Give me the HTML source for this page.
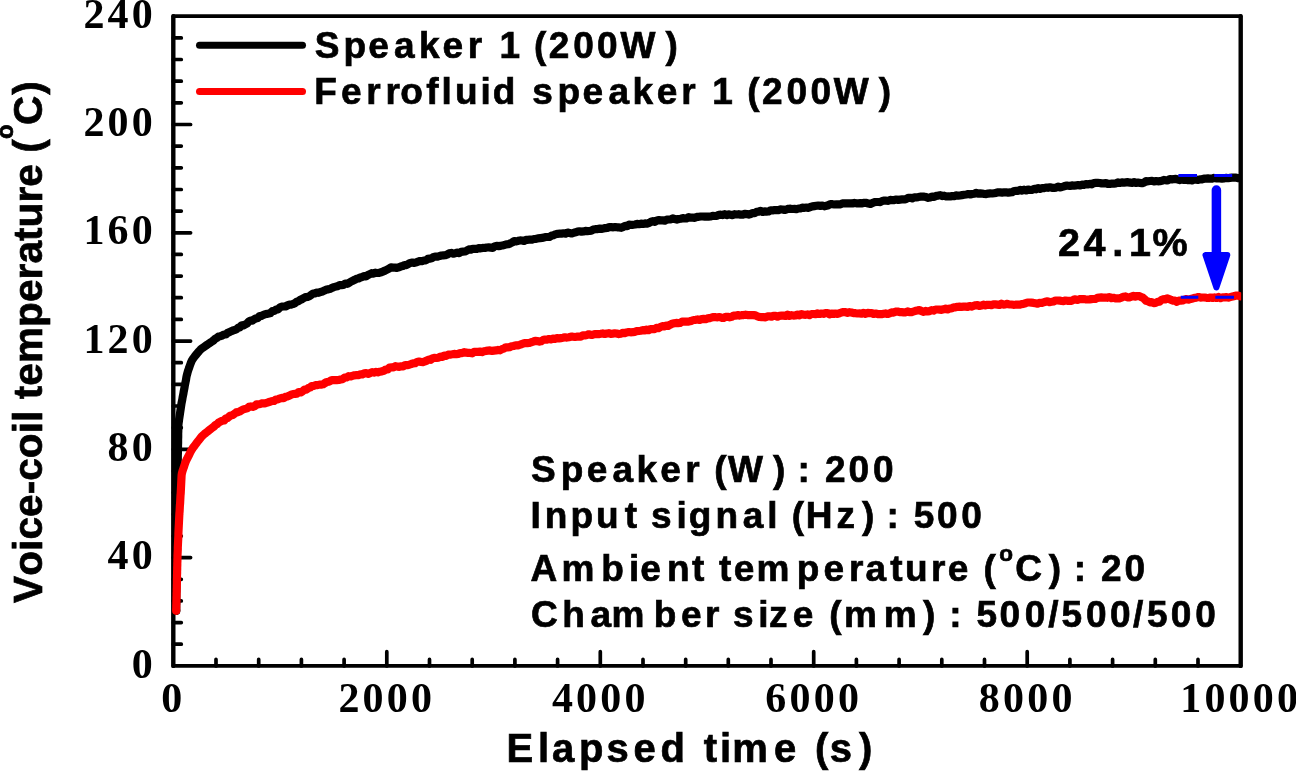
<!DOCTYPE html>
<html lang="en"><head><meta charset="utf-8"><title>Voice-coil temperature vs elapsed time</title>
<style>html,body{margin:0;padding:0;background:#fff;}body{width:1296px;height:771px;overflow:hidden;}svg{display:block;}.s{font-family:"Liberation Sans",Arial,Helvetica,sans-serif;font-weight:bold;fill:#000;stroke:#000;stroke-width:0.7px;font-kerning:none;}.t{font-family:"Liberation Serif","Times New Roman",Times,serif;font-weight:bold;fill:#000;font-kerning:none;}</style></head><body>
<svg width="1296" height="771" viewBox="0 0 1296 771">
<rect x="0" y="0" width="1296" height="771" fill="#fff"/>
<path d="M173.3,644.2H181.3 M173.3,622.6H181.3 M173.3,600.9H181.3 M173.3,579.3H181.3 M173.3,557.6H190.6 M173.3,536.0H181.3 M173.3,514.3H181.3 M173.3,492.6H181.3 M173.3,471.0H181.3 M173.3,449.3H190.6 M173.3,427.7H181.3 M173.3,406.0H181.3 M173.3,384.4H181.3 M173.3,362.7H181.3 M173.3,341.1H190.6 M173.3,319.4H181.3 M173.3,297.7H181.3 M173.3,276.1H181.3 M173.3,254.4H181.3 M173.3,232.8H190.6 M173.3,211.1H181.3 M173.3,189.5H181.3 M173.3,167.8H181.3 M173.3,146.1H181.3 M173.3,124.5H190.6 M173.3,102.8H181.3 M173.3,81.2H181.3 M173.3,59.5H181.3 M173.3,37.9H181.3 M216.0,665.9V659.4 M258.7,665.9V659.4 M301.4,665.9V659.4 M344.1,665.9V659.4 M386.8,665.9V651.7 M429.5,665.9V659.4 M472.2,665.9V659.4 M514.9,665.9V659.4 M557.6,665.9V659.4 M600.3,665.9V651.7 M643.0,665.9V659.4 M685.7,665.9V659.4 M728.3,665.9V659.4 M771.0,665.9V659.4 M813.7,665.9V651.7 M856.4,665.9V659.4 M899.1,665.9V659.4 M941.8,665.9V659.4 M984.5,665.9V659.4 M1027.2,665.9V651.7 M1069.9,665.9V659.4 M1112.6,665.9V659.4 M1155.3,665.9V659.4 M1198.0,665.9V659.4" stroke="#000" stroke-width="3.7" stroke-linecap="round" fill="none"/>
<path d="M173.3,16.2V665.9 M1240.7,16.2V665.9" stroke="#000" stroke-width="4.4" stroke-linecap="round" fill="none"/>
<path d="M173.3,16.2H1240.7 M173.3,665.9H1240.7" stroke="#000" stroke-width="3.7" stroke-linecap="round" fill="none"/>
<clipPath id="c"><rect x="170" y="10" width="1071.2" height="660"/></clipPath><g clip-path="url(#c)">
<path d="M176.2,610.8 L176.2,609.4 L176.2,607.5 L176.2,605.5 L176.3,603.5 L176.3,601.5 L176.3,599.5 L176.3,597.5 L176.3,595.5 L176.3,593.5 L176.4,591.5 L176.4,589.5 L176.4,587.5 L176.4,585.5 L176.4,583.5 L176.4,581.5 L176.5,579.4 L176.5,577.4 L176.5,575.4 L176.5,573.4 L176.5,571.4 L176.5,569.4 L176.5,567.4 L176.6,565.4 L176.6,563.4 L176.6,561.4 L176.6,559.4 L176.6,557.4 L176.7,555.4 L176.7,553.4 L176.7,551.4 L176.7,549.4 L176.7,547.4 L176.8,545.4 L176.8,543.4 L176.8,541.4 L176.8,539.4 L176.8,537.4 L176.9,535.4 L176.9,533.4 L176.9,531.4 L176.9,529.4 L176.9,527.4 L177.0,525.4 L177.0,523.4 L177.0,521.4 L177.0,519.4 L177.0,517.3 L177.1,515.3 L177.1,513.3 L177.1,511.3 L177.1,509.3 L177.1,507.3 L177.2,505.3 L177.2,503.3 L177.2,501.3 L177.2,499.3 L177.2,497.3 L177.3,495.3 L177.3,493.3 L177.3,491.3 L177.3,489.3 L177.3,487.3 L177.4,485.3 L177.4,483.3 L177.4,481.3 L177.4,479.3 L177.5,477.3 L177.5,475.3 L177.5,473.3 L177.6,471.3 L177.6,469.3 L177.6,467.3 L177.7,465.3 L177.7,463.3 L177.7,461.3 L177.8,459.3 L177.8,457.3 L177.8,455.3 L177.9,453.3 L177.9,451.2 L178.0,449.2 L178.0,447.2 L178.0,445.2 L178.1,443.2 L178.1,441.2 L178.1,439.2 L178.2,437.2 L178.2,435.2 L178.2,433.2 L178.3,431.2 L178.3,429.2 L178.4,427.2 L178.4,425.2 L178.6,423.2 L178.9,421.2 L179.1,419.3 L179.4,417.3 L179.7,415.3 L180.0,413.3 L180.3,411.3 L180.6,409.3 L180.9,407.4 L181.2,405.4 L181.5,403.4 L181.9,401.4 L182.3,399.5 L182.6,397.5 L183.0,395.5 L183.4,393.6 L183.7,391.6 L184.1,389.6 L184.5,387.7 L184.8,385.7 L185.2,383.7 L185.6,381.7 L186.0,379.8 L186.3,377.8 L186.7,375.8 L187.2,373.9 L187.7,372.0 L188.3,370.1 L189.0,368.2 L189.6,366.3 L190.3,364.4 L191.0,362.5 L191.8,360.7 L192.8,359.0 L194.0,357.4 L195.2,355.8 L196.5,354.3 L197.7,352.7 L199.0,351.2 L200.4,349.7 L201.9,348.4 L203.5,347.3 L205.2,346.1 L206.8,345.0 L208.5,343.9 L210.1,342.7 L211.8,341.6 L213.4,340.5 L215.1,338.8 L216.8,337.9 L218.6,336.5 L220.4,336.2 L222.2,335.6 L224.0,334.5 L225.9,334.5 L227.7,332.8 L229.5,332.1 L231.3,331.2 L233.2,330.4 L235.0,329.8 L236.7,329.2 L238.3,327.6 L239.8,327.4 L241.5,325.3 L243.2,325.5 L245.0,324.6 L246.8,323.7 L248.6,321.7 L250.5,320.7 L252.3,320.6 L254.1,319.3 L255.9,318.3 L257.7,318.2 L259.5,316.0 L261.3,315.9 L263.1,315.1 L265.0,314.2 L266.8,313.9 L268.7,313.5 L270.5,313.0 L272.4,311.1 L274.2,311.0 L276.1,309.6 L278.0,309.4 L279.8,307.5 L281.7,306.6 L283.6,306.5 L285.4,306.5 L287.3,305.5 L289.1,304.6 L291.0,304.7 L292.9,304.0 L294.7,303.4 L296.5,301.9 L298.4,301.2 L300.2,299.9 L302.1,299.1 L303.9,297.9 L305.7,297.1 L307.6,296.9 L309.4,296.2 L311.2,294.9 L313.1,293.5 L314.9,293.4 L316.8,292.6 L318.6,292.8 L320.5,292.0 L322.4,291.5 L324.4,290.6 L326.3,289.6 L328.2,289.4 L330.1,288.8 L332.0,287.8 L333.9,287.1 L335.8,286.6 L337.7,286.2 L339.6,285.2 L341.5,285.1 L343.4,284.9 L345.3,283.5 L347.2,283.8 L349.1,282.8 L350.9,281.6 L352.8,280.7 L354.7,279.8 L356.5,278.8 L358.4,278.5 L360.3,277.5 L362.2,277.0 L364.0,276.0 L365.9,276.5 L367.8,275.1 L369.7,274.3 L371.6,273.2 L373.5,273.7 L375.4,272.7 L377.4,273.0 L379.3,272.8 L381.2,272.3 L383.2,271.4 L385.1,270.6 L387.1,269.6 L389.0,268.6 L390.9,267.3 L392.9,267.6 L394.8,267.6 L396.7,268.0 L398.7,267.3 L400.6,266.6 L402.6,266.1 L404.5,265.0 L406.4,265.1 L408.4,263.9 L410.3,262.9 L412.3,262.5 L414.2,263.0 L416.2,262.3 L418.1,261.6 L420.0,261.0 L422.0,261.2 L423.9,260.5 L425.9,260.4 L427.8,258.9 L429.8,258.6 L431.8,258.3 L433.7,256.9 L435.7,256.5 L437.6,256.7 L439.6,256.0 L441.5,255.5 L443.5,255.3 L445.4,255.2 L447.4,254.4 L449.3,253.3 L451.3,252.9 L453.3,253.7 L455.2,253.3 L457.2,252.5 L459.1,253.2 L461.1,251.8 L463.0,251.6 L465.0,251.5 L466.9,250.6 L468.9,249.4 L470.9,249.6 L472.8,248.8 L474.8,248.9 L476.8,248.8 L478.8,248.1 L480.8,248.3 L482.7,247.9 L484.7,248.0 L486.7,247.5 L488.7,247.4 L490.7,247.6 L492.7,247.8 L494.7,246.4 L496.6,245.8 L498.6,246.1 L500.6,245.9 L502.5,245.4 L504.5,245.0 L506.4,244.3 L508.4,244.2 L510.3,243.4 L512.3,242.4 L514.2,241.0 L516.2,241.5 L518.2,240.8 L520.1,240.4 L522.1,240.5 L524.1,241.0 L526.1,239.9 L528.0,239.8 L530.0,239.5 L532.0,239.7 L534.0,239.0 L536.0,238.9 L537.9,238.3 L539.9,238.2 L541.9,237.9 L543.9,237.4 L545.8,237.0 L547.8,237.0 L549.8,236.8 L551.8,235.6 L553.7,235.2 L555.7,234.2 L557.7,233.8 L559.7,233.7 L561.6,233.6 L563.6,233.3 L565.6,233.6 L567.6,232.5 L569.6,233.1 L571.5,233.5 L573.5,232.9 L575.5,232.3 L577.5,231.6 L579.5,231.3 L581.4,231.7 L583.4,231.4 L585.4,230.9 L587.4,231.1 L589.4,231.0 L591.3,230.7 L593.3,229.6 L595.3,229.2 L597.3,229.2 L599.3,228.5 L601.3,229.0 L603.3,228.6 L605.3,228.1 L607.3,227.9 L609.3,227.1 L611.3,227.2 L613.3,227.3 L615.2,227.0 L617.2,227.3 L619.2,227.4 L621.2,227.8 L623.2,226.9 L625.2,225.8 L627.2,226.1 L629.1,224.7 L631.1,224.8 L633.1,224.8 L635.1,224.5 L637.1,223.9 L639.0,224.2 L641.0,223.7 L643.0,223.9 L645.0,223.4 L647.0,223.7 L649.0,222.9 L651.0,221.7 L652.9,221.2 L654.9,221.8 L656.9,220.5 L658.9,220.1 L660.9,220.3 L662.9,220.4 L664.9,220.7 L666.9,219.6 L668.9,219.5 L670.8,219.4 L672.8,218.4 L674.8,219.1 L676.8,219.6 L678.8,219.0 L680.8,218.7 L682.8,218.1 L684.8,218.5 L686.8,218.3 L688.8,217.1 L690.8,217.7 L692.8,217.6 L694.8,217.8 L696.8,216.9 L698.8,216.8 L700.7,216.5 L702.7,216.5 L704.7,216.6 L706.7,216.6 L708.7,216.6 L710.7,216.5 L712.7,215.8 L714.7,216.0 L716.7,215.9 L718.7,214.8 L720.7,214.7 L722.7,215.1 L724.7,214.2 L726.7,215.2 L728.7,214.4 L730.7,214.7 L732.7,215.2 L734.7,214.2 L736.7,214.5 L738.7,214.2 L740.7,214.7 L742.7,214.7 L744.7,213.8 L746.7,214.1 L748.7,214.6 L750.7,214.0 L752.7,213.1 L754.7,213.1 L756.6,211.8 L758.6,211.6 L760.6,210.8 L762.6,211.9 L764.6,211.4 L766.6,211.6 L768.6,211.5 L770.6,210.3 L772.6,210.4 L774.6,210.0 L776.5,210.1 L778.5,210.1 L780.5,209.4 L782.5,209.5 L784.5,209.9 L786.5,209.4 L788.5,208.8 L790.5,208.7 L792.5,209.0 L794.5,208.9 L796.5,209.2 L798.5,208.5 L800.5,208.4 L802.5,207.7 L804.5,207.8 L806.5,207.5 L808.5,207.9 L810.4,207.0 L812.4,206.4 L814.4,206.1 L816.4,205.8 L818.4,205.5 L820.4,205.9 L822.4,205.5 L824.4,206.3 L826.4,205.8 L828.4,205.2 L830.4,204.1 L832.4,204.2 L834.4,204.5 L836.4,204.3 L838.4,204.4 L840.4,204.3 L842.4,203.3 L844.4,203.4 L846.4,203.3 L848.4,203.3 L850.4,203.4 L852.4,203.4 L854.4,202.9 L856.4,203.3 L858.4,203.3 L860.4,203.1 L862.4,203.3 L864.4,202.8 L866.4,202.9 L868.4,203.6 L870.4,204.0 L872.4,203.1 L874.4,202.2 L876.4,202.0 L878.4,202.0 L880.3,202.1 L882.3,200.9 L884.3,200.5 L886.3,200.7 L888.3,200.8 L890.3,199.9 L892.3,200.2 L894.3,200.1 L896.3,199.6 L898.3,200.0 L900.3,199.6 L902.3,199.3 L904.3,199.5 L906.2,199.0 L908.2,197.9 L910.2,197.8 L912.2,198.4 L914.2,197.3 L916.2,197.4 L918.2,197.1 L920.2,196.7 L922.2,196.6 L924.2,196.7 L926.2,197.1 L928.2,197.8 L930.2,197.4 L932.2,196.6 L934.2,196.8 L936.2,195.8 L938.2,195.6 L940.2,195.2 L942.2,196.1 L944.2,195.7 L946.2,196.5 L948.2,196.4 L950.2,196.5 L952.2,196.0 L954.2,196.2 L956.2,195.4 L958.2,195.7 L960.2,195.5 L962.2,195.1 L964.2,194.8 L966.2,194.5 L968.2,194.1 L970.2,194.5 L972.2,194.0 L974.2,193.7 L976.2,192.9 L978.2,193.6 L980.2,193.4 L982.2,193.6 L984.2,194.0 L986.2,194.1 L988.2,193.6 L990.2,193.4 L992.2,193.5 L994.2,193.2 L996.2,192.9 L998.2,192.3 L1000.2,192.4 L1002.2,192.6 L1004.2,192.3 L1006.1,192.3 L1008.1,192.7 L1010.1,192.4 L1012.1,192.2 L1014.1,191.0 L1016.1,190.9 L1018.1,190.9 L1020.1,189.9 L1022.1,190.7 L1024.1,189.7 L1026.1,190.5 L1028.1,189.5 L1030.1,190.0 L1032.1,189.8 L1034.1,188.8 L1036.1,189.3 L1038.1,188.1 L1040.1,188.9 L1042.1,188.2 L1044.0,188.2 L1046.0,187.5 L1048.0,187.8 L1050.0,187.3 L1052.0,187.8 L1054.0,187.9 L1056.0,187.6 L1058.0,186.6 L1060.0,187.4 L1062.0,187.0 L1064.0,186.3 L1066.0,185.7 L1068.0,185.7 L1070.0,186.0 L1072.0,185.4 L1074.0,185.7 L1076.0,185.4 L1078.0,185.0 L1080.0,185.5 L1081.9,184.6 L1083.9,184.8 L1085.9,184.1 L1087.9,184.5 L1089.9,183.8 L1091.9,184.3 L1093.9,183.1 L1095.9,182.9 L1097.9,182.9 L1099.9,183.0 L1101.9,183.5 L1103.9,183.3 L1105.9,183.1 L1107.9,184.0 L1109.9,183.9 L1111.9,183.5 L1113.9,183.6 L1115.9,183.4 L1117.9,182.4 L1119.9,183.0 L1121.9,182.3 L1123.9,182.7 L1125.9,182.4 L1127.9,182.1 L1130.0,182.7 L1132.0,182.8 L1134.0,182.1 L1136.0,183.0 L1138.0,182.5 L1140.0,182.9 L1142.0,183.2 L1144.0,182.6 L1146.0,181.2 L1148.0,181.3 L1150.0,181.0 L1152.0,180.8 L1154.0,181.5 L1156.0,181.0 L1158.0,181.3 L1160.0,181.2 L1161.9,180.8 L1163.9,179.9 L1165.9,180.3 L1167.9,180.3 L1169.9,179.1 L1171.9,179.5 L1173.9,179.1 L1175.9,178.9 L1177.9,179.5 L1179.9,180.1 L1181.9,178.9 L1184.0,180.0 L1186.0,179.4 L1188.0,180.2 L1190.0,179.6 L1192.0,180.4 L1194.0,179.5 L1196.0,179.5 L1198.0,180.0 L1200.0,179.3 L1202.0,179.3 L1204.0,178.7 L1206.0,178.6 L1208.0,178.4 L1210.0,178.7 L1212.0,178.6 L1214.0,177.9 L1216.0,178.3 L1218.0,178.4 L1220.0,178.4 L1222.0,178.7 L1224.0,178.5 L1226.0,177.8 L1228.0,178.2 L1230.0,177.9 L1232.0,177.7 L1234.0,177.7 L1236.0,177.6 L1237.9,178.2 L1239.3,178.0" fill="none" stroke="#000" stroke-width="8.2" stroke-linecap="round" stroke-linejoin="round"/>
<path d="M1178.4,175.4H1197 M1214.2,175.4H1232.2" stroke="#00f" stroke-width="3" fill="none"/>
<path d="M176.2,610.8 L176.2,609.4 L176.2,607.5 L176.2,605.5 L176.3,603.5 L176.3,601.5 L176.3,599.5 L176.3,597.5 L176.3,595.5 L176.3,593.5 L176.4,591.5 L176.4,589.5 L176.4,587.5 L176.4,585.5 L176.4,583.5 L176.4,581.5 L176.5,579.4 L176.5,577.4 L176.5,575.4 L176.5,573.4 L176.5,571.4 L176.5,569.4 L176.5,567.4 L176.6,565.4 L176.6,563.4 L176.6,561.4 L176.6,559.4 L176.6,557.4 L176.7,555.4 L176.7,553.4 L176.7,551.4 L176.7,549.4 L176.7,547.4 L176.8,545.4 L176.8,543.4 L176.8,541.4 L176.8,539.4 L176.8,537.4 L176.9,535.4 L176.9,533.4 L176.9,531.4 L176.9,529.4 L176.9,527.4 L177.0,525.4 L177.0,523.4 L177.0,521.4 L177.0,519.4 L177.0,517.3 L177.1,515.3 L177.1,513.3 L177.1,511.3 L177.1,509.3 L177.1,507.3 L177.2,505.3 L177.2,503.3 L177.2,501.3 L177.2,499.3 L177.2,497.3 L177.3,495.3 L177.3,493.3 L177.3,491.3 L177.3,489.3 L177.3,487.3 L177.4,485.3 L177.4,483.3 L177.4,481.3 L177.4,479.3 L177.5,477.3 L177.5,475.3 L177.5,473.3 L177.6,471.3 L177.6,469.3 L177.6,467.3 L177.7,465.3 L177.7,463.3 L177.7,461.3 L177.8,459.3 L177.8,457.3 L177.8,455.3 L177.9,453.3 L177.9,451.2 L178.0,449.2 L178.0,447.2 L178.0,445.2 L178.1,443.2 L178.1,441.2 L178.1,439.2 L178.2,437.2 L178.2,435.2 L178.2,433.2 L178.3,431.2 L178.3,429.2 L178.4,427.2 L178.4,425.2 L178.6,423.2 L178.9,421.2 L179.1,419.3 L179.4,417.3 L179.7,415.3 L180.0,413.3 L180.3,411.3 L180.6,409.3 L180.9,407.4 L181.2,405.4 L181.5,403.4 L181.9,401.4 L182.3,399.5 L182.6,397.5 L183.0,395.5 L183.4,393.6 L183.7,391.6 L184.1,389.6 L184.5,387.7 L184.8,385.7 L185.2,383.7 L185.6,381.7 L186.0,379.8 L186.3,377.8 L186.7,375.8 L187.2,373.9 L187.7,372.0 L188.3,370.1 L189.0,368.2 L189.6,366.3 L190.3,364.4 L191.0,362.5 L191.8,360.7 L192.8,359.0 L194.0,357.4 L195.2,355.8 L196.5,354.3 L197.7,352.7 L199.0,351.2 L200.4,349.7 L201.9,348.4 L203.5,347.3 L205.2,346.1 L206.8,345.0 L208.5,343.9 L210.1,342.7 L211.8,341.6 L213.4,340.5 L215.1,338.8 L216.8,337.9 L218.6,336.5 L220.4,336.2 L222.2,335.6 L224.0,334.5 L225.9,334.5 L227.7,332.8 L229.5,332.1 L231.3,331.2 L233.2,330.4 L235.0,329.8 L236.7,329.2 L238.3,327.6 L239.8,327.4 L241.5,325.3 L243.2,325.5 L245.0,324.6 L246.8,323.7 L248.6,321.7 L250.5,320.7 L252.3,320.6 L254.1,319.3 L255.9,318.3 L257.7,318.2 L259.5,316.0 L261.3,315.9 L263.1,315.1 L265.0,314.2 L266.8,313.9 L268.7,313.5 L270.5,313.0 L272.4,311.1 L274.2,311.0 L276.1,309.6 L278.0,309.4 L279.8,307.5 L281.7,306.6 L283.6,306.5 L285.4,306.5 L287.3,305.5 L289.1,304.6 L291.0,304.7 L292.9,304.0 L294.7,303.4 L296.5,301.9 L298.4,301.2 L300.2,299.9 L302.1,299.1 L303.9,297.9 L305.7,297.1 L307.6,296.9 L309.4,296.2 L311.2,294.9 L313.1,293.5 L314.9,293.4 L316.8,292.6 L318.6,292.8 L320.5,292.0 L322.4,291.5 L324.4,290.6 L326.3,289.6 L328.2,289.4 L330.1,288.8 L332.0,287.8 L333.9,287.1 L335.8,286.6 L337.7,286.2 L339.6,285.2 L341.5,285.1 L343.4,284.9 L345.3,283.5 L347.2,283.8 L349.1,282.8 L350.9,281.6 L352.8,280.7 L354.7,279.8 L356.5,278.8 L358.4,278.5 L360.3,277.5 L362.2,277.0 L364.0,276.0 L365.9,276.5 L367.8,275.1 L369.7,274.3 L371.6,273.2 L373.5,273.7 L375.4,272.7 L377.4,273.0 L379.3,272.8 L381.2,272.3 L383.2,271.4 L385.1,270.6 L387.1,269.6 L389.0,268.6 L390.9,267.3 L392.9,267.6 L394.8,267.6 L396.7,268.0 L398.7,267.3 L400.6,266.6 L402.6,266.1 L404.5,265.0 L406.4,265.1 L408.4,263.9 L410.3,262.9 L412.3,262.5 L414.2,263.0 L416.2,262.3 L418.1,261.6 L420.0,261.0 L422.0,261.2 L423.9,260.5 L425.9,260.4 L427.8,258.9 L429.8,258.6 L431.8,258.3 L433.7,256.9 L435.7,256.5 L437.6,256.7 L439.6,256.0 L441.5,255.5 L443.5,255.3 L445.4,255.2 L447.4,254.4 L449.3,253.3 L451.3,252.9 L453.3,253.7 L455.2,253.3 L457.2,252.5 L459.1,253.2 L461.1,251.8 L463.0,251.6 L465.0,251.5 L466.9,250.6 L468.9,249.4 L470.9,249.6 L472.8,248.8 L474.8,248.9 L476.8,248.8 L478.8,248.1 L480.8,248.3 L482.7,247.9 L484.7,248.0 L486.7,247.5 L488.7,247.4 L490.7,247.6 L492.7,247.8 L494.7,246.4 L496.6,245.8 L498.6,246.1 L500.6,245.9 L502.5,245.4 L504.5,245.0 L506.4,244.3 L508.4,244.2 L510.3,243.4 L512.3,242.4 L514.2,241.0 L516.2,241.5 L518.2,240.8 L520.1,240.4 L522.1,240.5 L524.1,241.0 L526.1,239.9 L528.0,239.8 L530.0,239.5 L532.0,239.7 L534.0,239.0 L536.0,238.9 L537.9,238.3 L539.9,238.2 L541.9,237.9 L543.9,237.4 L545.8,237.0 L547.8,237.0 L549.8,236.8 L551.8,235.6 L553.7,235.2 L555.7,234.2 L557.7,233.8 L559.7,233.7 L561.6,233.6 L563.6,233.3 L565.6,233.6 L567.6,232.5 L569.6,233.1 L571.5,233.5 L573.5,232.9 L575.5,232.3 L577.5,231.6 L579.5,231.3 L581.4,231.7 L583.4,231.4 L585.4,230.9 L587.4,231.1 L589.4,231.0 L591.3,230.7 L593.3,229.6 L595.3,229.2 L597.3,229.2 L599.3,228.5 L601.3,229.0 L603.3,228.6 L605.3,228.1 L607.3,227.9 L609.3,227.1 L611.3,227.2 L613.3,227.3 L615.2,227.0 L617.2,227.3 L619.2,227.4 L621.2,227.8 L623.2,226.9 L625.2,225.8 L627.2,226.1 L629.1,224.7 L631.1,224.8 L633.1,224.8 L635.1,224.5 L637.1,223.9 L639.0,224.2 L641.0,223.7 L643.0,223.9 L645.0,223.4 L647.0,223.7 L649.0,222.9 L651.0,221.7 L652.9,221.2 L654.9,221.8 L656.9,220.5 L658.9,220.1 L660.9,220.3 L662.9,220.4 L664.9,220.7 L666.9,219.6 L668.9,219.5 L670.8,219.4 L672.8,218.4 L674.8,219.1 L676.8,219.6 L678.8,219.0 L680.8,218.7 L682.8,218.1 L684.8,218.5 L686.8,218.3 L688.8,217.1 L690.8,217.7 L692.8,217.6 L694.8,217.8 L696.8,216.9 L698.8,216.8 L700.7,216.5 L702.7,216.5 L704.7,216.6 L706.7,216.6 L708.7,216.6 L710.7,216.5 L712.7,215.8 L714.7,216.0 L716.7,215.9 L718.7,214.8 L720.7,214.7 L722.7,215.1 L724.7,214.2 L726.7,215.2 L728.7,214.4 L730.7,214.7 L732.7,215.2 L734.7,214.2 L736.7,214.5 L738.7,214.2 L740.7,214.7 L742.7,214.7 L744.7,213.8 L746.7,214.1 L748.7,214.6 L750.7,214.0 L752.7,213.1 L754.7,213.1 L756.6,211.8 L758.6,211.6 L760.6,210.8 L762.6,211.9 L764.6,211.4 L766.6,211.6 L768.6,211.5 L770.6,210.3 L772.6,210.4 L774.6,210.0 L776.5,210.1 L778.5,210.1 L780.5,209.4 L782.5,209.5 L784.5,209.9 L786.5,209.4 L788.5,208.8 L790.5,208.7 L792.5,209.0 L794.5,208.9 L796.5,209.2 L798.5,208.5 L800.5,208.4 L802.5,207.7 L804.5,207.8 L806.5,207.5 L808.5,207.9 L810.4,207.0 L812.4,206.4 L814.4,206.1 L816.4,205.8 L818.4,205.5 L820.4,205.9 L822.4,205.5 L824.4,206.3 L826.4,205.8 L828.4,205.2 L830.4,204.1 L832.4,204.2 L834.4,204.5 L836.4,204.3 L838.4,204.4 L840.4,204.3 L842.4,203.3 L844.4,203.4 L846.4,203.3 L848.4,203.3 L850.4,203.4 L852.4,203.4 L854.4,202.9 L856.4,203.3 L858.4,203.3 L860.4,203.1 L862.4,203.3 L864.4,202.8 L866.4,202.9 L868.4,203.6 L870.4,204.0 L872.4,203.1 L874.4,202.2 L876.4,202.0 L878.4,202.0 L880.3,202.1 L882.3,200.9 L884.3,200.5 L886.3,200.7 L888.3,200.8 L890.3,199.9 L892.3,200.2 L894.3,200.1 L896.3,199.6 L898.3,200.0 L900.3,199.6 L902.3,199.3 L904.3,199.5 L906.2,199.0 L908.2,197.9 L910.2,197.8 L912.2,198.4 L914.2,197.3 L916.2,197.4 L918.2,197.1 L920.2,196.7 L922.2,196.6 L924.2,196.7 L926.2,197.1 L928.2,197.8 L930.2,197.4 L932.2,196.6 L934.2,196.8 L936.2,195.8 L938.2,195.6 L940.2,195.2 L942.2,196.1 L944.2,195.7 L946.2,196.5 L948.2,196.4 L950.2,196.5 L952.2,196.0 L954.2,196.2 L956.2,195.4 L958.2,195.7 L960.2,195.5 L962.2,195.1 L964.2,194.8 L966.2,194.5 L968.2,194.1 L970.2,194.5 L972.2,194.0 L974.2,193.7 L976.2,192.9 L978.2,193.6 L980.2,193.4 L982.2,193.6 L984.2,194.0 L986.2,194.1 L988.2,193.6 L990.2,193.4 L992.2,193.5 L994.2,193.2 L996.2,192.9 L998.2,192.3 L1000.2,192.4 L1002.2,192.6 L1004.2,192.3 L1006.1,192.3 L1008.1,192.7 L1010.1,192.4 L1012.1,192.2 L1014.1,191.0 L1016.1,190.9 L1018.1,190.9 L1020.1,189.9 L1022.1,190.7 L1024.1,189.7 L1026.1,190.5 L1028.1,189.5 L1030.1,190.0 L1032.1,189.8 L1034.1,188.8 L1036.1,189.3 L1038.1,188.1 L1040.1,188.9 L1042.1,188.2 L1044.0,188.2 L1046.0,187.5 L1048.0,187.8 L1050.0,187.3 L1052.0,187.8 L1054.0,187.9 L1056.0,187.6 L1058.0,186.6 L1060.0,187.4 L1062.0,187.0 L1064.0,186.3 L1066.0,185.7 L1068.0,185.7 L1070.0,186.0 L1072.0,185.4 L1074.0,185.7 L1076.0,185.4 L1078.0,185.0 L1080.0,185.5 L1081.9,184.6 L1083.9,184.8 L1085.9,184.1 L1087.9,184.5 L1089.9,183.8 L1091.9,184.3 L1093.9,183.1 L1095.9,182.9 L1097.9,182.9 L1099.9,183.0 L1101.9,183.5 L1103.9,183.3 L1105.9,183.1 L1107.9,184.0 L1109.9,183.9 L1111.9,183.5 L1113.9,183.6 L1115.9,183.4 L1117.9,182.4 L1119.9,183.0 L1121.9,182.3 L1123.9,182.7 L1125.9,182.4 L1127.9,182.1 L1130.0,182.7 L1132.0,182.8 L1134.0,182.1 L1136.0,183.0 L1138.0,182.5 L1140.0,182.9 L1142.0,183.2 L1144.0,182.6 L1146.0,181.2 L1148.0,181.3 L1150.0,181.0 L1152.0,180.8 L1154.0,181.5 L1156.0,181.0 L1158.0,181.3 L1160.0,181.2 L1161.9,180.8 L1163.9,179.9 L1165.9,180.3 L1167.9,180.3 L1169.9,179.1 L1171.9,179.5 L1173.9,179.1 L1175.9,178.9 L1177.9,179.5 L1179.9,180.1 L1181.9,178.9 L1184.0,180.0 L1186.0,179.4 L1188.0,180.2 L1190.0,179.6 L1192.0,180.4 L1194.0,179.5 L1196.0,179.5 L1198.0,180.0 L1200.0,179.3 L1202.0,179.3 L1204.0,178.7 L1206.0,178.6 L1208.0,178.4 L1210.0,178.7 L1212.0,178.6 L1214.0,177.9 L1216.0,178.3 L1218.0,178.4 L1220.0,178.4 L1222.0,178.7 L1224.0,178.5 L1226.0,177.8 L1228.0,178.2 L1230.0,177.9 L1232.0,177.7 L1234.0,177.7 L1236.0,177.6 L1237.9,178.2 L1239.3,178.0" fill="none" stroke="#000" stroke-width="8.2" stroke-linecap="round" stroke-linejoin="round" stroke-dasharray="0 2600"/>
<path d="M176.2,610.8 L176.2,609.4 L176.3,607.5 L176.3,605.5 L176.4,603.5 L176.4,601.5 L176.5,599.5 L176.5,597.5 L176.6,595.5 L176.6,593.5 L176.7,591.5 L176.7,589.5 L176.8,587.5 L176.8,585.5 L176.9,583.5 L176.9,581.5 L176.9,579.5 L177.0,577.4 L177.0,575.4 L177.1,573.4 L177.1,571.4 L177.2,569.4 L177.2,567.4 L177.3,565.4 L177.3,563.4 L177.4,561.4 L177.4,559.4 L177.5,557.4 L177.5,555.4 L177.6,553.4 L177.7,551.4 L177.8,549.4 L177.8,547.4 L177.9,545.4 L178.0,543.4 L178.1,541.4 L178.2,539.4 L178.3,537.4 L178.4,535.4 L178.4,533.4 L178.5,531.4 L178.6,529.4 L178.7,527.4 L178.8,525.4 L178.9,523.4 L179.0,521.4 L179.1,519.4 L179.2,517.4 L179.3,515.4 L179.4,513.4 L179.6,511.4 L179.7,509.4 L179.8,507.4 L179.9,505.4 L180.1,503.4 L180.2,501.4 L180.3,499.4 L180.4,497.4 L180.5,495.4 L180.7,493.4 L180.8,491.4 L180.9,489.4 L181.0,487.4 L181.1,485.4 L181.2,483.4 L181.3,481.4 L181.4,479.4 L181.5,477.4 L181.6,475.4 L181.9,473.4 L182.4,471.5 L183.0,469.6 L183.7,467.7 L184.3,465.8 L184.9,463.9 L185.6,462.0 L186.4,460.2 L187.3,458.4 L188.2,456.6 L189.1,454.8 L190.0,453.0 L190.9,451.2 L191.9,449.5 L193.0,447.8 L194.2,446.2 L195.4,444.6 L196.6,443.0 L197.8,441.4 L199.1,439.9 L200.3,438.3 L201.5,436.7 L202.9,435.3 L204.4,434.0 L206.0,432.7 L207.6,431.5 L209.1,430.3 L210.7,429.0 L212.3,427.8 L213.9,426.6 L215.5,424.9 L217.1,424.1 L218.8,422.4 L220.6,421.6 L222.3,420.8 L224.1,420.5 L225.8,418.5 L227.5,418.1 L229.3,416.4 L231.0,415.4 L232.8,415.0 L234.5,413.7 L236.2,412.4 L238.0,412.1 L239.7,411.5 L241.5,410.3 L243.3,409.4 L245.2,408.9 L247.1,408.4 L249.0,406.8 L250.9,406.4 L252.8,406.8 L254.7,406.1 L256.6,404.4 L258.5,404.3 L260.4,403.9 L262.4,403.3 L264.3,403.4 L266.2,403.0 L268.2,402.3 L270.1,401.8 L272.1,401.0 L274.0,401.0 L275.9,399.5 L277.9,399.4 L279.8,398.4 L281.8,397.9 L283.7,398.1 L285.6,396.8 L287.5,396.4 L289.4,395.7 L291.3,394.7 L293.2,394.0 L295.1,393.8 L296.9,393.6 L298.8,392.0 L300.7,392.5 L302.6,391.3 L304.5,389.6 L306.4,389.6 L308.2,388.2 L310.1,387.5 L311.9,386.0 L313.8,385.8 L315.7,385.2 L317.5,385.1 L319.4,384.6 L321.2,384.6 L323.1,384.3 L325.0,383.0 L326.9,382.0 L328.9,381.7 L330.8,380.6 L332.8,380.1 L334.8,380.1 L336.7,380.2 L338.7,380.0 L340.6,379.5 L342.6,379.2 L344.6,377.5 L346.5,377.4 L348.5,376.2 L350.5,376.5 L352.4,375.9 L354.4,375.3 L356.4,375.2 L358.3,375.2 L360.3,374.4 L362.3,374.5 L364.2,373.4 L366.2,373.2 L368.2,373.8 L370.1,373.1 L372.1,372.1 L374.0,372.6 L376.0,371.9 L377.9,372.4 L379.9,371.7 L381.8,371.4 L383.8,370.8 L385.7,369.5 L387.7,369.4 L389.6,367.6 L391.6,367.4 L393.5,367.5 L395.5,366.1 L397.4,366.6 L399.4,366.8 L401.3,366.3 L403.3,366.3 L405.3,365.0 L407.2,365.2 L409.2,364.8 L411.2,364.0 L413.1,363.4 L415.1,363.2 L417.1,361.9 L419.0,361.5 L421.0,362.0 L422.9,362.1 L424.9,361.4 L426.8,360.6 L428.8,359.5 L430.7,359.8 L432.7,358.2 L434.6,357.9 L436.5,358.0 L438.5,357.7 L440.4,356.7 L442.4,357.0 L444.3,355.6 L446.3,355.8 L448.2,354.7 L450.2,354.6 L452.2,354.3 L454.2,353.9 L456.2,354.2 L458.2,353.9 L460.2,353.1 L462.1,353.1 L464.1,352.1 L466.1,352.7 L468.1,352.9 L470.1,352.9 L472.1,353.3 L474.1,351.9 L476.1,351.9 L478.1,351.8 L480.0,351.6 L482.0,352.1 L484.0,351.3 L486.0,350.9 L488.0,350.6 L490.0,350.4 L492.0,350.9 L494.0,350.6 L496.0,350.4 L498.0,349.9 L500.0,350.3 L501.9,349.2 L503.8,348.6 L505.8,347.3 L507.7,347.3 L509.7,347.1 L511.6,346.3 L513.5,346.0 L515.5,345.4 L517.4,345.4 L519.4,344.9 L521.4,344.3 L523.3,343.5 L525.3,343.0 L527.3,343.2 L529.3,343.0 L531.2,342.2 L533.2,341.6 L535.2,340.8 L537.1,341.1 L539.1,341.6 L541.1,341.3 L543.0,340.1 L545.0,339.6 L547.0,339.6 L549.0,339.0 L551.0,339.4 L553.0,338.7 L555.0,338.9 L557.0,338.2 L558.9,338.4 L560.9,338.1 L562.9,337.8 L564.9,337.3 L566.9,337.6 L568.9,337.2 L570.9,336.7 L572.9,336.7 L574.9,337.0 L576.8,336.7 L578.8,336.5 L580.8,336.7 L582.8,335.3 L584.8,335.4 L586.8,334.9 L588.8,334.3 L590.8,334.8 L592.8,334.8 L594.8,334.0 L596.8,334.1 L598.8,334.1 L600.8,333.8 L602.8,333.4 L604.8,334.0 L606.8,333.5 L608.8,333.2 L610.8,333.8 L612.8,333.6 L614.8,333.3 L616.8,333.5 L618.8,334.1 L620.8,333.7 L622.8,332.9 L624.8,333.1 L626.7,332.4 L628.7,332.0 L630.7,332.3 L632.7,332.2 L634.7,331.9 L636.7,331.2 L638.7,331.0 L640.7,330.7 L642.7,330.2 L644.6,330.4 L646.6,329.6 L648.6,330.2 L650.5,329.1 L652.5,329.2 L654.5,329.1 L656.4,327.9 L658.4,328.2 L660.4,327.0 L662.3,326.2 L664.3,326.4 L666.2,325.7 L668.2,325.8 L670.2,324.7 L672.1,323.8 L674.1,323.3 L676.1,322.9 L678.0,323.1 L680.0,322.9 L682.0,321.7 L683.9,321.7 L685.9,321.6 L687.9,321.7 L689.8,321.3 L691.8,320.7 L693.8,320.0 L695.7,319.8 L697.7,319.4 L699.7,319.9 L701.7,319.1 L703.7,318.9 L705.7,319.2 L707.7,318.4 L709.7,318.2 L711.7,317.5 L713.7,317.0 L715.7,317.2 L717.6,317.3 L719.6,317.0 L721.6,317.8 L723.6,317.9 L725.6,316.8 L727.6,316.8 L729.6,317.3 L731.6,316.8 L733.6,315.7 L735.6,315.7 L737.6,315.0 L739.6,315.6 L741.6,315.2 L743.6,315.1 L745.6,314.7 L747.6,315.1 L749.6,315.2 L751.6,315.1 L753.6,315.1 L755.5,315.4 L757.5,316.4 L759.5,317.0 L761.5,317.2 L763.5,317.1 L765.5,317.3 L767.5,316.3 L769.5,316.3 L771.5,316.7 L773.5,315.8 L775.5,315.9 L777.5,316.7 L779.5,315.8 L781.5,315.6 L783.5,315.6 L785.5,315.9 L787.5,314.7 L789.5,315.8 L791.5,315.2 L793.5,315.6 L795.5,315.4 L797.5,314.6 L799.5,315.3 L801.5,314.0 L803.5,314.7 L805.5,314.8 L807.5,314.4 L809.5,315.1 L811.5,314.0 L813.5,314.0 L815.5,314.2 L817.5,313.4 L819.5,314.0 L821.5,313.5 L823.5,313.8 L825.5,313.1 L827.5,313.0 L829.5,314.3 L831.5,313.6 L833.5,314.0 L835.5,313.5 L837.5,313.9 L839.5,313.3 L841.5,312.5 L843.5,312.0 L845.5,312.2 L847.5,312.8 L849.5,312.2 L851.5,312.5 L853.5,313.1 L855.5,313.2 L857.5,313.5 L859.5,313.4 L861.6,313.7 L863.6,312.8 L865.6,313.9 L867.6,312.9 L869.6,313.1 L871.6,313.1 L873.6,314.0 L875.6,313.6 L877.6,314.1 L879.6,314.2 L881.6,314.2 L883.6,313.8 L885.6,313.4 L887.6,314.0 L889.6,313.4 L891.6,312.4 L893.6,312.6 L895.6,311.7 L897.6,311.5 L899.6,312.1 L901.6,312.2 L903.6,312.4 L905.6,312.3 L907.6,311.4 L909.6,312.1 L911.6,312.2 L913.6,311.5 L915.6,310.8 L917.6,310.4 L919.6,310.1 L921.6,311.2 L923.6,311.9 L925.6,310.9 L927.6,311.5 L929.6,311.2 L931.6,310.2 L933.6,310.6 L935.6,309.5 L937.6,309.5 L939.6,309.6 L941.6,309.8 L943.6,309.3 L945.6,308.6 L947.6,309.4 L949.6,308.5 L951.6,308.4 L953.6,307.3 L955.6,307.3 L957.5,306.8 L959.5,306.7 L961.5,306.8 L963.5,306.6 L965.5,306.7 L967.5,306.9 L969.5,306.1 L971.5,306.6 L973.5,305.9 L975.5,305.3 L977.4,305.1 L979.4,306.0 L981.4,305.6 L983.4,304.7 L985.4,305.4 L987.4,304.8 L989.4,304.8 L991.4,305.2 L993.4,304.4 L995.4,304.4 L997.4,304.6 L999.4,304.9 L1001.4,303.7 L1003.4,304.6 L1005.4,304.4 L1007.4,303.8 L1009.4,304.5 L1011.4,304.5 L1013.4,304.8 L1015.5,304.7 L1017.5,304.5 L1019.5,304.7 L1021.5,304.1 L1023.5,303.9 L1025.5,303.3 L1027.5,302.5 L1029.5,302.5 L1031.5,302.7 L1033.5,302.9 L1035.5,303.3 L1037.5,303.7 L1039.5,302.9 L1041.5,303.0 L1043.5,302.4 L1045.5,301.8 L1047.5,301.3 L1049.5,302.1 L1051.5,301.8 L1053.5,301.4 L1055.5,300.5 L1057.5,300.5 L1059.5,300.6 L1061.5,301.0 L1063.4,301.1 L1065.4,300.5 L1067.4,300.8 L1069.4,300.9 L1071.4,300.8 L1073.4,299.8 L1075.4,299.3 L1077.4,300.0 L1079.4,299.2 L1081.4,299.1 L1083.4,299.0 L1085.4,299.3 L1087.4,299.5 L1089.4,299.4 L1091.4,299.1 L1093.4,299.0 L1095.4,299.0 L1097.4,297.9 L1099.4,297.6 L1101.4,297.4 L1103.4,297.7 L1105.4,297.5 L1107.4,297.8 L1109.4,297.0 L1111.4,298.1 L1113.4,297.8 L1115.4,298.4 L1117.4,298.4 L1119.4,298.3 L1121.4,297.6 L1123.4,296.8 L1125.4,296.4 L1127.4,297.4 L1129.4,297.3 L1131.4,296.6 L1133.4,295.9 L1135.4,296.6 L1137.4,296.0 L1139.4,296.2 L1141.2,297.1 L1142.8,297.7 L1144.5,299.1 L1146.2,300.9 L1148.0,301.4 L1149.9,302.3 L1151.8,302.2 L1153.7,303.1 L1155.6,302.9 L1157.6,301.9 L1159.5,301.7 L1161.4,300.0 L1163.3,299.2 L1165.2,299.5 L1167.2,298.3 L1169.1,299.0 L1171.0,299.9 L1173.0,300.6 L1174.9,300.7 L1176.9,301.8 L1178.8,300.7 L1180.8,300.7 L1182.7,300.5 L1184.7,299.6 L1186.6,299.0 L1188.6,299.7 L1190.6,299.0 L1192.5,298.5 L1194.5,297.9 L1196.5,297.6 L1198.5,297.1 L1200.5,297.6 L1202.5,297.5 L1204.5,297.5 L1206.5,297.8 L1208.5,298.0 L1210.5,297.5 L1212.5,297.9 L1214.5,297.4 L1216.6,298.0 L1218.6,297.0 L1220.6,298.1 L1222.6,297.4 L1224.6,297.4 L1226.6,297.1 L1228.5,297.7 L1230.5,297.0 L1232.5,296.6 L1234.5,296.0 L1236.5,295.5 L1238.4,295.7 L1239.8,296.3" fill="none" stroke="#f00" stroke-width="8.2" stroke-linecap="round" stroke-linejoin="round"/>
<path d="M1180.7,297.3H1198.3 M1215.3,297.3H1234" stroke="#00f" stroke-width="3" fill="none"/>
</g>
<path d="M1216.4,190V255" stroke="#00f" stroke-width="9.5" stroke-linecap="round" fill="none"/>
<path d="M1205.5,255H1227.3L1216.4,287.5Z" fill="#00f" stroke="#00f" stroke-width="6" stroke-linejoin="round"/>
<text class="t" x="131.8" y="677.5" font-size="42" letter-spacing="3.2">0</text>
<text class="t" x="107.6" y="569.2" font-size="42" letter-spacing="3.2">40</text>
<text class="t" x="107.6" y="460.9" font-size="42" letter-spacing="3.2">80</text>
<text class="t" x="83.4" y="352.7" font-size="42" letter-spacing="3.2">120</text>
<text class="t" x="83.4" y="244.4" font-size="42" letter-spacing="3.2">160</text>
<text class="t" x="83.4" y="136.1" font-size="42" letter-spacing="3.2">200</text>
<text class="t" x="83.4" y="27.8" font-size="42" letter-spacing="3.2">240</text>
<text class="t" x="161.2" y="711.6" font-size="42" letter-spacing="3.2">0</text>
<text class="t" x="338.4" y="711.6" font-size="42" letter-spacing="3.2">2000</text>
<text class="t" x="551.9" y="711.6" font-size="42" letter-spacing="3.2">4000</text>
<text class="t" x="765.3" y="711.6" font-size="42" letter-spacing="3.2">6000</text>
<text class="t" x="978.8" y="711.6" font-size="42" letter-spacing="3.2">8000</text>
<text class="t" x="1180.2" y="711.6" font-size="42" letter-spacing="3.2">10000</text>
<path d="M199.5,45.3H302.5" stroke="#000" stroke-width="7" stroke-linecap="round"/>
<path d="M199.5,91.6H302.5" stroke="#f00" stroke-width="7" stroke-linecap="round"/>
<text class="s" x="314.7 343.5 368.3 394.1 419.0 442.4 467.8 482.2 499.5 520.0 534.1 548.7 573.3 597.1 620.6 665.5" y="57.8" font-size="37">Speaker 1 (200W)</text>
<text class="s" x="314.3 340.9 366.2 385.4 400.3 426.2 441.5 455.1 480.6 492.7 515.3 532.3 557.4 582.6 608.4 632.4 656.7 681.2 695.6 712.3 732.8 747.3 761.9 786.5 810.4 833.8 878.8" y="104.1" font-size="37">Ferrofluid speaker 1 (200W)</text>
<text class="s" x="531.0 560.8 586.8 612.5 636.5 660.3 685.2 699.6 714.3 728.0 772.9 785.2 797.4 809.8 825.0 848.5 872.9" y="481.7" font-size="37">Speaker (W) : 200</text>
<text class="s" x="530.6 544.7 570.5 596.0 624.7 637.1 651.1 676.5 688.7 715.6 742.7 767.2 777.5 791.7 805.8 836.6 861.9 874.2 886.4 898.8 913.7 937.1 961.3" y="527.8" font-size="37">Input signal (Hz) : 500</text>
<text class="s" x="530.6 561.5 601.3 628.9 640.3 667.0 692.1 704.5 718.9 733.8 756.5 796.7 823.6 849.1 865.6 890.2 905.1 930.9 947.7 968.2 983.4" y="581.3" font-size="37">Ambient temperature (</text>
<text class="s" x="999.3" y="561.0" font-size="22.5">o</text>
<text class="s" x="1015.3 1048.7 1061.0 1073.7 1086.1 1101.1 1124.6" y="581.3" font-size="37">C) : 20</text>
<text class="s" x="530.9 562.2 590.6 611.5 653.7 681.0 705.0 719.4 733.1 758.2 769.1 792.7 813.2 829.3 843.9 883.7 923.1 935.4 949.2 961.6 976.4 999.6 1024.7 1048.2 1061.6 1085.9 1109.9 1133.1 1147.0 1170.7 1195.2" y="626.7" font-size="37">Chamber size (mm) : 500/500/500</text>
<text class="s" x="1058.0 1083.5 1112.3 1128.9 1152.5" y="255.8" font-size="39.5">24.1%</text>
<text class="s" x="506.6 538.1 552.0 578.9 606.6 633.4 660.4 684.8 703.7 719.9 732.2 774.0 796.3 814.9 829.8 859.0" y="761.7" font-size="40">Elapsed time (s)</text>
<g transform="translate(41.5,602.6) rotate(-90)">
<text class="s" x="-0.3" y="0.0" font-size="40.5" letter-spacing="0.10">Voice-coil temperature (</text>
<text class="s" x="463.6" y="-28.5" font-size="24">o</text>
<text class="s" x="477.5" y="0.0" font-size="40.5" letter-spacing="1.04">C)</text>
</g>
</svg></body></html>
